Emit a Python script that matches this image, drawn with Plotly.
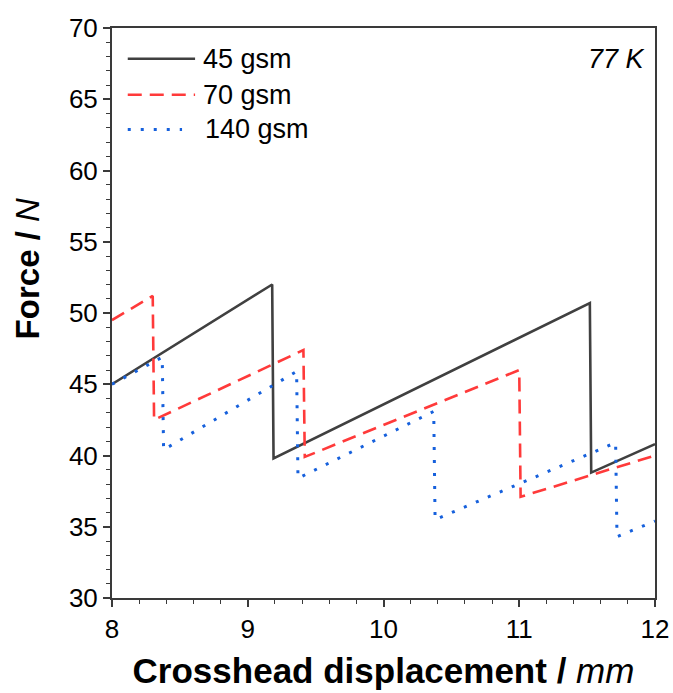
import plotly.graph_objects as go

# Force–displacement traces (piecewise: load ramps, then sudden drops)
x_45 = [8.00, 9.18, 9.19, 11.52, 11.53, 12.00]
f_45 = [45.0, 52.0, 39.8, 50.7, 38.8, 40.8]

x_70 = [8.00, 8.30, 8.31, 9.41, 9.42, 11.00, 11.01, 12.00]
f_70 = [49.5, 51.2, 42.5, 47.4, 39.9, 46.0, 37.1, 40.0]

x_140 = [8.00, 8.37, 8.38, 9.36, 9.37, 10.37, 10.38, 11.71, 11.72, 12.00]
f_140 = [45.0, 46.9, 40.4, 45.9, 38.4, 43.1, 35.5, 40.9, 34.3, 35.4]

series_names = ["45 gsm", "70 gsm", "140 gsm"]
temperature_label = "77 K"

FONT = "Arial, Liberation Sans, sans-serif"
C_BLACK = "#404040"
C_RED = "#ff3a3a"
C_BLUE = "#1660dc"
AXIS_C = "#3a3a3a"

styles = [
    dict(color=C_BLACK, width=2.6, dash="solid"),
    dict(color=C_RED, width=2.6, dash="14px,8px"),
    dict(color=C_BLUE, width=3.0, dash="3px,10px"),
]

fig = go.Figure()
for xs, ys, name, st in zip([x_45, x_70, x_140], [f_45, f_70, f_140], series_names, styles):
    fig.add_trace(go.Scatter(x=xs, y=ys, mode="lines", name=name, line=st,
                             showlegend=False))

# Legend keys drawn in paper space
leg_rows = [(0.946, 0), (0.883, 1), (0.822, 2)]
x0_key, x1_key = 0.029, 0.153
for ypos, i in leg_rows:
    st = styles[i]
    x1 = x1_key if i < 2 else 0.129
    fig.add_shape(type="line", xref="paper", yref="paper", x0=x0_key, x1=x1,
                  y0=ypos, y1=ypos,
                  line=dict(color=st["color"], width=st["width"], dash=st["dash"]))
    fig.add_annotation(xref="paper", yref="paper", x=0.164 if i < 2 else 0.168,
                       y=ypos, text=series_names[i], showarrow=False,
                       xanchor="left", yanchor="middle",
                       font=dict(family=FONT, size=27, color="black"))

fig.add_annotation(xref="paper", yref="paper", x=0.985, y=0.945,
                   text=f"<i>{temperature_label}</i>", showarrow=False,
                   xanchor="right", yanchor="middle",
                   font=dict(family=FONT, size=27, color="black"))

# Y-axis title placed explicitly
fig.add_annotation(xref="paper", yref="paper", x=-0.155, y=0.578,
                   text="<b>Force / </b><i>N</i>", textangle=-90, showarrow=False,
                   xanchor="center", yanchor="middle",
                   font=dict(family=FONT, size=33, color="black"))

axis_common = dict(
    showline=True, linecolor=AXIS_C, linewidth=2, mirror=True,
    ticks="outside", ticklen=7, tickwidth=1.5, tickcolor=AXIS_C,
    showgrid=False, zeroline=False, automargin=False,
    tickfont=dict(family=FONT, size=26, color="black"),
)

fig.update_xaxes(range=[8, 12], dtick=1, tick0=8,
                 minor=dict(ticks="outside", dtick=0.2, ticklen=4, tickwidth=1.3,
                            tickcolor=AXIS_C, showgrid=False),
                 title=dict(text="<b>Crosshead displacement / </b><i>mm</i>",
                            font=dict(family=FONT, size=35, color="black"),
                            standoff=15),
                 **axis_common)
fig.update_yaxes(range=[30, 70], dtick=5, tick0=30,
                 minor=dict(ticks="outside", dtick=1, ticklen=4, tickwidth=1.3,
                            tickcolor=AXIS_C, showgrid=False),
                 **axis_common)

fig.update_layout(
    width=673, height=693,
    margin=dict(l=112, r=18, t=28, b=95),
    plot_bgcolor="white", paper_bgcolor="white",
    showlegend=False,
)

fig.write_html("out.html")
